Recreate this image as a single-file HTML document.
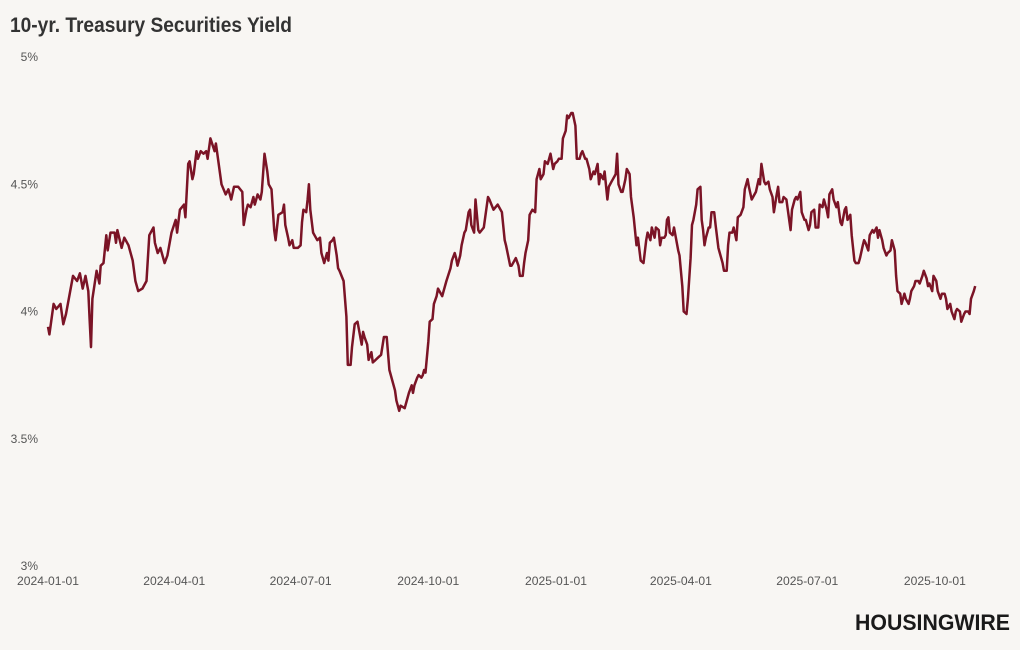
<!DOCTYPE html>
<html><head><meta charset="utf-8">
<style>
html,body{margin:0;padding:0;background:#f8f6f3;}
svg{display:block;font-family:"Liberation Sans",sans-serif;}
</style></head>
<body>
<svg id="chart" width="1020" height="650" viewBox="0 0 1020 650">
<rect width="1020" height="650" fill="#f8f6f3"/>
<text x="10" y="32" font-size="21" font-weight="bold" fill="#333" textLength="282" lengthAdjust="spacingAndGlyphs">10-yr. Treasury Securities Yield</text>
<g id="yaxis"></g>
<g id="xaxis"></g>
<path id="line" fill="none" stroke="#7b1426" stroke-width="2.5" stroke-linejoin="round"/>
<text x="1010" y="630" text-anchor="end" font-size="22" font-weight="bold" fill="#1a1a1a" textLength="155" lengthAdjust="spacingAndGlyphs">HOUSINGWIRE</text>
</svg>
<script>
const yTicks=[3,3.5,4,4.5,5];
const yTickLabels=["3%","3.5%","4%","4.5%","5%"];
const xTickDays=[0,91,182,274,366,456,547,639];
const xTickLabels=["2024-01-01","2024-04-01","2024-07-01","2024-10-01","2025-01-01","2025-04-01","2025-07-01","2025-10-01"];
// days since 2024-01-01
const days=[0,1,4,6,9,11,13,16,18,21,23,25,27,29,30,31,32,35,37,38,40,42,43,45,48,49,50,53,55,58,61,63,65,68,71,72,73,76,77,79,81,83,84,86,89,92,93,95,98,99,101,102,104,105,107,108,110,112,114,115,117,120,121,122,124,125,128,130,132,134,137,140,141,143,144,146,148,149,151,153,154,156,158,159,161,163,164,166,169,170,171,173,174,176,177,180,182,183,184,186,187,188,189,191,192,194,196,197,199,201,202,203,205,206,208,209,210,213,215,216,218,219,221,223,224,226,227,228,230,231,233,234,236,238,240,242,244,246,249,250,251,253,254,257,259,260,262,263,264,266,267,269,270,271,272,274,275,277,278,280,281,282,284,285,287,290,291,293,294,295,297,298,300,301,303,304,305,307,308,310,311,314,317,318,321,324,327,329,330,333,334,337,339,340,342,343,344,346,347,349,351,352,354,355,357,358,360,361,362,364,365,367,368,370,371,373,374,375,377,378,380,381,383,384,385,387,388,390,391,393,394,396,397,398,400,401,403,404,406,407,409,410,411,413,414,416,417,419,420,422,424,425,427,429,431,432,434,435,437,438,440,441,442,444,445,446,447,448,450,451,452,454,455,457,458,460,461,463,464,465,467,468,470,471,472,473,474,476,477,478,480,481,483,484,486,487,489,490,491,493,494,496,497,499,501,502,504,505,507,509,510,512,513,514,516,517,519,520,522,523,525,526,527,529,530,532,533,535,536,538,539,540,542,543,545,546,548,549,550,552,553,555,556,558,559,561,562,563,565,566,568,569,571,572,574,575,576,578,579,581,582,584,585,587,588,589,591,592,594,595,597,598,599,601,602,604,605,607,608,610,611,612,614,615,617,618,620,621,622,624,625,627,628,630,631,633,634,635,637,638,640,641,643,644,646,647,648,650,651,653,654,655,657,658,660,661,663,664,665,667,668];
const yields=[3.94,3.91,4.03,4.01,4.03,3.95,3.99,4.08,4.14,4.12,4.15,4.09,4.14,4.08,3.97,3.86,4.05,4.16,4.11,4.18,4.19,4.30,4.24,4.31,4.31,4.27,4.32,4.25,4.29,4.26,4.20,4.12,4.08,4.09,4.12,4.21,4.30,4.33,4.27,4.23,4.25,4.21,4.19,4.22,4.31,4.36,4.31,4.40,4.42,4.37,4.58,4.59,4.52,4.54,4.63,4.60,4.63,4.62,4.63,4.60,4.68,4.63,4.66,4.62,4.54,4.50,4.46,4.48,4.44,4.49,4.49,4.47,4.34,4.40,4.42,4.41,4.45,4.42,4.46,4.44,4.47,4.62,4.55,4.50,4.48,4.32,4.28,4.38,4.39,4.42,4.34,4.29,4.26,4.28,4.25,4.25,4.26,4.35,4.40,4.39,4.44,4.50,4.40,4.31,4.30,4.28,4.29,4.23,4.19,4.23,4.20,4.27,4.28,4.29,4.22,4.17,4.16,4.12,3.98,3.79,3.79,3.86,3.95,3.96,3.93,3.87,3.92,3.90,3.87,3.81,3.84,3.80,3.81,3.82,3.83,3.90,3.90,3.77,3.71,3.69,3.65,3.61,3.63,3.62,3.66,3.68,3.71,3.68,3.71,3.74,3.75,3.74,3.75,3.77,3.76,3.88,3.96,3.97,4.03,4.06,4.09,4.08,4.06,4.08,4.12,4.17,4.20,4.23,4.21,4.18,4.22,4.26,4.31,4.32,4.39,4.40,4.34,4.31,4.44,4.32,4.31,4.33,4.45,4.44,4.40,4.42,4.39,4.28,4.26,4.18,4.18,4.21,4.18,4.14,4.14,4.19,4.23,4.28,4.38,4.40,4.39,4.52,4.56,4.52,4.54,4.59,4.58,4.60,4.62,4.56,4.58,4.59,4.60,4.60,4.68,4.71,4.77,4.76,4.78,4.78,4.73,4.60,4.60,4.62,4.63,4.60,4.60,4.56,4.52,4.55,4.54,4.58,4.50,4.54,4.52,4.55,4.44,4.49,4.51,4.52,4.54,4.62,4.50,4.47,4.47,4.52,4.56,4.54,4.45,4.37,4.26,4.29,4.20,4.19,4.28,4.31,4.28,4.33,4.29,4.33,4.32,4.26,4.29,4.29,4.30,4.36,4.37,4.31,4.30,4.33,4.30,4.24,4.22,4.10,4.00,3.99,4.05,4.21,4.34,4.36,4.42,4.48,4.49,4.36,4.32,4.26,4.29,4.33,4.33,4.39,4.39,4.34,4.25,4.23,4.19,4.16,4.16,4.26,4.31,4.31,4.33,4.28,4.37,4.38,4.41,4.48,4.52,4.49,4.44,4.46,4.47,4.52,4.50,4.58,4.51,4.50,4.51,4.48,4.45,4.39,4.46,4.49,4.43,4.43,4.45,4.44,4.40,4.32,4.40,4.44,4.45,4.44,4.47,4.39,4.36,4.36,4.32,4.34,4.39,4.40,4.33,4.33,4.42,4.41,4.44,4.40,4.37,4.46,4.48,4.44,4.41,4.43,4.35,4.34,4.40,4.41,4.36,4.38,4.30,4.20,4.19,4.19,4.21,4.26,4.28,4.27,4.24,4.30,4.32,4.31,4.33,4.29,4.32,4.28,4.25,4.22,4.23,4.24,4.28,4.24,4.14,4.08,4.07,4.03,4.07,4.05,4.03,4.05,4.08,4.10,4.12,4.12,4.11,4.14,4.16,4.13,4.10,4.11,4.08,4.14,4.12,4.08,4.05,4.07,4.07,4.05,4.01,4.03,4.00,3.97,4.00,4.01,4.00,3.96,3.99,4.00,4.00,3.99,4.05,4.08,4.10];

const X0=48,PXDAY=1.388,Y0=566,PXPCT=254.5;
const xs=d=>X0+d*PXDAY;
const ys=v=>Y0-(v-3)*PXPCT;
const NS="http://www.w3.org/2000/svg";
const ya=document.getElementById('yaxis'),xa=document.getElementById('xaxis');
yTicks.forEach((t,i)=>{
  const el=document.createElementNS(NS,'text');
  el.setAttribute('x',38);el.setAttribute('y',ys(t)+4);
  el.setAttribute('text-anchor','end');el.setAttribute('font-size','12');el.setAttribute('fill','#555');
  
  
  el.textContent=yTickLabels[i];ya.appendChild(el);
});
xTickDays.forEach((d,i)=>{
  const el=document.createElementNS(NS,'text');
  el.setAttribute('x',xs(d));el.setAttribute('y',585);
  el.setAttribute('text-anchor','middle');el.setAttribute('font-size','12');el.setAttribute('fill','#555');
  el.setAttribute('textLength','62');el.setAttribute('lengthAdjust','spacingAndGlyphs');
  
  
  el.textContent=xTickLabels[i];xa.appendChild(el);
});
const n=Math.min(days.length,yields.length);
let d='';
for(let i=0;i<n;i++){d+=(i?'L':'M')+xs(days[i]).toFixed(1)+','+ys(yields[i]).toFixed(1);}
document.getElementById('line').setAttribute('d',d);
</script>
</body></html>
